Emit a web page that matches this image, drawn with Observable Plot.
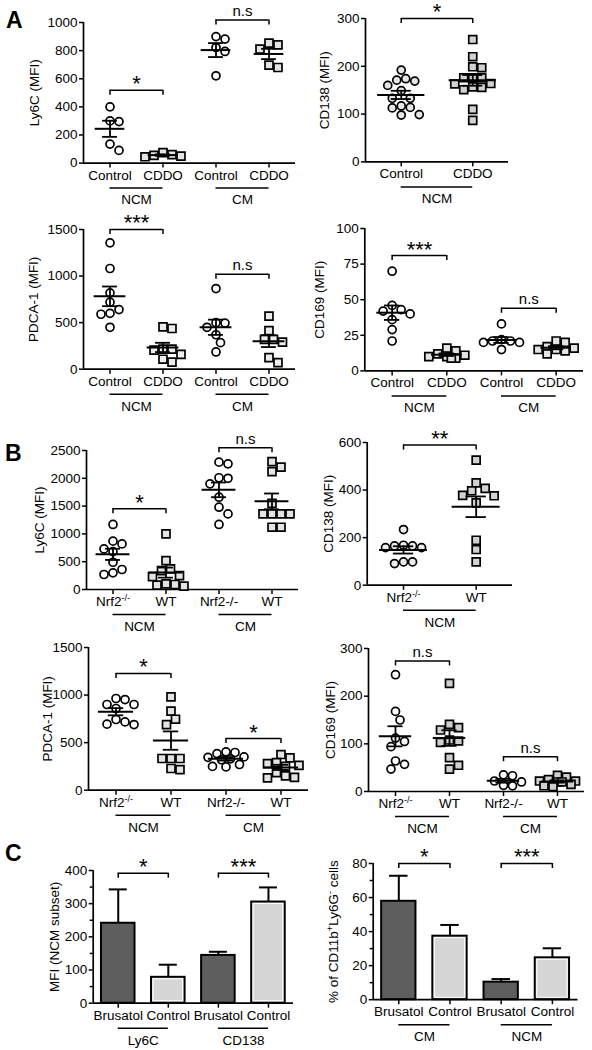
<!DOCTYPE html>
<html><head><meta charset="utf-8">
<script src="https://cdn.jsdelivr.net/npm/d3@7"></script>
<script src="https://cdn.jsdelivr.net/npm/@observablehq/plot@0.6"></script>
<style>
body{margin:0;background:#fff;}
#fig{position:relative;width:592px;height:1050px;overflow:hidden;font-family:Arial,"Liberation Sans",Helvetica,sans-serif;background:#fff;}
.panel{position:absolute;}
.letter{position:absolute;font-weight:bold;font-size:23px;line-height:1;font-family:Arial,"Liberation Sans",sans-serif;}
</style></head><body><div id="fig"></div>
<script>
// ================= DATA =================
// Panel A1 – Ly6C (MFI), CDDO
const a1Labels = ["Control", "CDDO", "Control", "CDDO"];
const a1Groups = ["NCM", "CM"];
const a1NcmControl = [400, 300, 295, 135, 90];
const a1NcmCddo = [75, 55, 45, 50, 60];
const a1CmControl = [900, 882, 822, 794, 621];
const a1CmCddo = [853, 841, 810, 697, 680];
const a1Sig = [{from: 0, to: 1, y: 519, label: "*"}, {from: 2, to: 3, y: 1017, label: "n.s"}];
const a1Ticks = [0, 200, 400, 600, 800, 1000];

// Panel A2 – CD138 (MFI), CDDO
const a2Labels = ["Control", "CDDO"];
const a2Groups = ["NCM"];
const a2Control = [192, 171, 174, 169, 160, 149, 133, 133, 117, 113, 114, 98, 99];
const a2Cddo = [256, 220, 197, 199, 176, 176, 176, 164, 157, 151, 156, 163, 110, 87];
const a2Sig = [{from: 0, to: 1, y: 300, label: "*"}];
const a2Ticks = [0, 100, 200, 300];

// Panel A3 – PDCA-1 (MFI), CDDO
const a3Labels = ["Control", "CDDO", "Control", "CDDO"];
const a3Groups = ["NCM", "CM"];
const a3NcmControl = [1357, 1081, 820, 720, 640, 600, 590, 450];
const a3NcmCddo = [455, 437, 215, 215, 205, 160, 107, 75];
const a3CmControl = [866, 500, 495, 450, 370, 285, 185];
const a3CmCddo = [569, 415, 320, 320, 290, 125, 70];
const a3Sig = [{from: 0, to: 1, y: 1500, label: "***"}, {from: 2, to: 3, y: 1020, label: "n.s"}];
const a3Ticks = [0, 500, 1000, 1500];

// Panel A4 – CD169 (MFI), CDDO
const a4Labels = ["Control", "CDDO", "Control", "CDDO"];
const a4Groups = ["NCM", "CM"];
const a4NcmControl = [70, 46, 43, 42, 40, 36, 29, 21];
const a4NcmCddo = [16, 14, 12, 11, 10, 10, 9, 9];
const a4CmControl = [33, 22, 21, 21, 20, 20, 15];
const a4CmCddo = [21, 20, 17, 16, 15, 15, 14, 12];
const a4Sig = [{from: 0, to: 1, y: 81, label: "***"}, {from: 2, to: 3, y: 44, label: "n.s"}];
const a4Ticks = [0, 25, 50, 75, 100];

// Panel B1 – Ly6C (MFI), Nrf2
const b1Labels = ["Nrf2^{-/-}", "WT", "Nrf2-/-", "WT"];
const b1Groups = ["NCM", "CM"];
const b1NcmNrf2 = [1170, 870, 820, 730, 680, 490, 360, 300, 270];
const b1NcmWt = [1000, 520, 370, 340, 250, 230, 100, 80, 60, 90];
const b1CmNrf2 = [2290, 2260, 2010, 2000, 1900, 1660, 1480, 1360, 1170];
const b1CmWt = [2300, 2200, 2120, 1550, 1360, 1360, 1360, 1360, 1120, 1120];
const b1Sig = [{from: 0, to: 1, y: 1451, label: "*"}, {from: 2, to: 3, y: 2548, label: "n.s"}];
const b1Ticks = [0, 500, 1000, 1500, 2000, 2500];

// Panel B2 – CD138 (MFI), Nrf2
const b2Labels = ["Nrf2^{-/-}", "WT"];
const b2Groups = ["NCM"];
const b2Nrf2 = [234, 165, 158, 158, 165, 168, 98, 91, 98];
const b2Wt = [526, 430, 407, 397, 376, 378, 346, 189, 150, 98];
const b2Sig = [{from: 0, to: 1, y: 589, label: "**"}];
const b2Ticks = [0, 200, 400, 600];

// Panel B3 – PDCA-1 (MFI), Nrf2
const b3Labels = ["Nrf2^{-/-}", "WT", "Nrf2-/-", "WT"];
const b3Groups = ["NCM", "CM"];
const b3NcmNrf2 = [964, 953, 901, 901, 859, 743, 718, 694, 690];
const b3NcmWt = [981, 831, 746, 690, 333, 333, 333, 228, 217];
const b3CmNrf2 = [403, 396, 385, 350, 345, 330, 320, 270, 250, 245];
const b3CmWt = [375, 340, 290, 280, 260, 250, 185, 150, 135, 130];
const b3Sig = [{from: 0, to: 1, y: 1227, label: "*"}, {from: 2, to: 3, y: 543, label: "*"}];
const b3Ticks = [0, 500, 1000, 1500];

// Panel B4 – CD169 (MFI), Nrf2
const b4Labels = ["Nrf2^{-/-}", "WT", "Nrf2-/-", "WT"];
const b4Groups = ["NCM", "CM"];
const b4NcmNrf2 = [245, 168, 150, 112, 105, 94, 64, 57, 47];
const b4NcmWt = [227, 141, 134, 129, 108, 106, 103, 71, 55, 47];
const b4CmNrf2 = [35, 33, 22, 20, 13, 12];
const b4CmWt = [34, 30, 25, 22, 22, 20, 20, 15, 12, 10];
const b4Sig = [{from: 0, to: 1, y: 274, label: "n.s"}, {from: 2, to: 3, y: 73, label: "n.s"}];
const b4Ticks = [0, 100, 200, 300];

// Panel C1 – MFI (NCM subset), Brusatol
const c1Labels = ["Brusatol", "Control", "Brusatol", "Control"];
const c1Groups = ["Ly6C", "CD138"];
const c1Means = [241, 78, 144, 305];
const c1Errors = [102, 38, 11, 44];
const c1Sig = [{from: 0, to: 1, y: 392, label: "*"}, {from: 2, to: 3, y: 392, label: "***"}];
const c1Ticks = [0, 100, 200, 300, 400];
const c1Minor = [50, 150, 250, 350];

// Panel C2 – % of CD11b+Ly6G- cells, Brusatol
const c2Labels = ["Brusatol", "Control", "Brusatol", "Control"];
const c2Groups = ["CM", "NCM"];
const c2Means = [57.8, 37.3, 10.3, 24.6];
const c2Errors = [15, 6.6, 1.8, 5.6];
const c2Sig = [{from: 0, to: 1, y: 80, label: "*"}, {from: 2, to: 3, y: 80, label: "***"}];
const c2Ticks = [0, 20, 40, 60, 80];
const c2Minor = [10, 30, 50, 70];

// ================= LAYOUT (pixels) =================
const BOX = {
  A1: {left: 0, right: 312, x0: 83, x1: 295, yTop: 21.7, yBot: 162.3, lab: 49},
  A2: {left: 296, right: 592, x0: 365, x1: 508, yTop: 18.3, yBot: 161.7, lab: 41},
  A3: {left: 0, right: 312, x0: 83, x1: 295, yTop: 229.3, yBot: 369, lab: 50},
  A4: {left: 296, right: 592, x0: 364.3, x1: 583, yTop: 228.3, yBot: 370.7, lab: 45},
  B1: {left: 0, right: 312, x0: 86, x1: 298, yTop: 450, yBot: 589, lab: 47},
  B2: {left: 296, right: 592, x0: 366.7, x1: 512, yTop: 442.3, yBot: 585, lab: 39},
  B3: {left: 0, right: 312, x0: 88, x1: 308, yTop: 647.3, yBot: 790, lab: 41},
  B4: {left: 296, right: 592, x0: 368, x1: 584, yTop: 647.7, yBot: 790.7, lab: 38},
  C1: {left: 0, right: 312, x0: 92.7, x1: 293, yTop: 870, yBot: 1002.7, lab: 39},
  C2: {left: 296, right: 592, x0: 372.7, x1: 577.5, yTop: 863.3, yBot: 999.5, lab: 40}
};
const FONT = 'Arial, "Liberation Sans", Helvetica, sans-serif';
const MT = 40, MB = 52;

const fig = document.getElementById("fig");

// deterministic beeswarm offsets (px), limited to +-maxHalf
function swarm(vals, pxPerUnit, diam, maxHalf) {
  const order = d3.range(vals.length).sort((a, b) => d3.descending(vals[a], vals[b]));
  const placed = [], offs = new Array(vals.length);
  const cands = [0];
  for (let j = 1; j * diam * 0.5 <= maxHalf; ++j) cands.push(j * diam * 0.5, -j * diam * 0.5);
  for (const k of order) {
    const y = vals[k] * pxPerUnit;
    let best = 0, bestD = -1;
    for (const c of cands) {
      const dmin = placed.length ? d3.min(placed, p => Math.hypot(p.x - c, p.y - y)) : Infinity;
      if (dmin >= diam) { best = c; bestD = Infinity; break; }
      if (dmin > bestD + 0.5) { bestD = dmin; best = c; }
    }
    placed.push({x: best, y});
    offs[k] = best;
  }
  return offs;
}

function supers(svg) {
  d3.select(svg).selectAll("text").each(function () {
    const t = this.textContent;
    if (!t.includes("^{")) return;
    const parts = t.split(/(\^\{[^}]*\})/).filter(s => s);
    const sel = d3.select(this);
    sel.text(null);
    let up = false;
    for (const p of parts) {
      if (p.startsWith("^{")) {
        sel.append("tspan").attr("dy", up ? 0 : -5).attr("font-size", "0.68em").text(p.slice(2, -1));
        up = true;
      } else {
        sel.append("tspan").attr("dy", up ? 5 : 0).text(p);
        up = false;
      }
    }
  });
}

function commonMarks(cfg, b, n, pxPerUnit, yMax) {
  const groupsData = cfg.groups.map((g, k) => ({g, a: 2 * k, b: 2 * k + 1}));
  const sig = cfg.sig;
  const depth = 5 / pxPerUnit;
  const ends = sig.flatMap(s => [{x: s.from, y: s.y}, {x: s.to, y: s.y}]);
  return [
    Plot.ruleY([0], {strokeWidth: 1.7}),
    Plot.ruleX([-0.5], {strokeWidth: 1.7}),
    Plot.axisY({ticks: cfg.ticks, tickFormat: d => String(d), tickSize: 4, tickPadding: 2, label: null, strokeWidth: 1.5, fontSize: 13.5}),
    Plot.axisX({ticks: d3.range(n), tickFormat: i => cfg.labels[i], tickSize: 5, tickPadding: 2, label: null, strokeWidth: 1.5, fontSize: 13.5}),
    Plot.ruleY(groupsData, {y: () => 0, x1: "a", x2: "b", dy: 25, strokeWidth: 1.5}),
    Plot.text(groupsData, {x: d => (d.a + d.b) / 2, y: () => 0, text: "g", dy: 37, fontSize: 13.5}),
    Plot.text([cfg.yLabel], {x: () => -0.5, y: () => yMax / 2, textAnchor: "middle", lineAnchor: "middle", rotate: -90, dx: -b.lab, text: d => d, fontSize: 13.5}),
    Plot.ruleY(sig, {y: "y", x1: "from", x2: "to", strokeWidth: 1.5}),
    Plot.ruleX(ends, {x: "x", y1: "y", y2: d => d.y - depth, strokeWidth: 1.5}),
    Plot.text(sig.filter(s => s.label.includes("*")), {x: d => (d.from + d.to) / 2, y: "y", text: "label", lineAnchor: "bottom", dy: 1, fontSize: 22}),
    Plot.text(sig.filter(s => !s.label.includes("*")), {x: d => (d.from + d.to) / 2, y: "y", text: "label", lineAnchor: "bottom", dy: -4, fontSize: 15})
  ];
}

function place(svg, b) {
  const wrap = document.createElement("div");
  wrap.className = "panel";
  wrap.style.left = b.left + "px";
  wrap.style.top = (b.yTop - MT) + "px";
  wrap.appendChild(svg);
  fig.appendChild(wrap);
  supers(svg);
}

function plotFrame(b, n, yMax, marks) {
  return Plot.plot({
    width: b.right - b.left,
    height: (b.yBot - b.yTop) + MT + MB,
    marginLeft: b.x0 - b.left,
    marginRight: b.right - b.x1,
    marginTop: MT,
    marginBottom: MB,
    x: {domain: [-0.5, n - 0.5]},
    y: {domain: [0, yMax]},
    style: {fontFamily: FONT, fontSize: "13.5px", background: "transparent", overflow: "visible", color: "black"},
    marks
  });
}

function dotPanel(cfg) {
  const b = BOX[cfg.id];
  const n = cfg.labels.length;
  const yMax = d3.max(cfg.ticks);
  const pxPerUnit = (b.yBot - b.yTop) / yMax;
  const step = (b.x1 - b.x0) / n;
  const pts = [];
  cfg.values.forEach((vals, i) => {
    const offs = swarm(vals, pxPerUnit, 9, step * 0.36);
    vals.forEach((v, k) => pts.push({i, v, x: i + offs[k] / step}));
  });
  const stats = cfg.values.map((vals, i) => {
    const m = d3.mean(vals), s = d3.deviation(vals) / Math.sqrt(vals.length);
    return {i, m, lo: m - s, hi: m + s};
  });
  const hw = cfg.meanHalf;
  const marks = [
    ...commonMarks(cfg, b, n, pxPerUnit, yMax),
    Plot.dot(pts.filter(p => p.i % 2 === 0), {x: "x", y: "v", r: 4, symbol: "circle", stroke: "black", strokeWidth: 1.7, fill: cfg.circleFill}),
    Plot.dot(pts.filter(p => p.i % 2 === 1), {x: "x", y: "v", r: 4.5, symbol: "square", stroke: "black", strokeWidth: 1.7, fill: cfg.squareFill}),
    Plot.ruleY(stats, {y: "m", x1: d => d.i - hw, x2: d => d.i + hw, strokeWidth: 2}),
    Plot.ruleX(stats, {x: "i", y1: "lo", y2: "hi", strokeWidth: 1.8}),
    Plot.ruleY(stats, {y: "lo", x1: d => d.i - 0.14, x2: d => d.i + 0.14, strokeWidth: 1.8}),
    Plot.ruleY(stats, {y: "hi", x1: d => d.i - 0.14, x2: d => d.i + 0.14, strokeWidth: 1.8})
  ];
  place(plotFrame(b, n, yMax, marks), b);
}

function barPanel(cfg) {
  const b = BOX[cfg.id];
  const n = cfg.labels.length;
  const yMax = d3.max(cfg.ticks);
  const pxPerUnit = (b.yBot - b.yTop) / yMax;
  const bars = cfg.means.map((v, i) => ({i, v, e: cfg.errors[i]}));
  const dark = bars.filter(d => d.i % 2 === 0), light = bars.filter(d => d.i % 2 === 1);
  const hw = 0.335;
  const marks = [
    Plot.axisY({ticks: cfg.minor, tickSize: 3, tickFormat: () => "", label: null, strokeWidth: 1.5}),
    Plot.ruleX(bars, {x: "i", y1: "v", y2: d => d.v + d.e, strokeWidth: 2}),
    Plot.ruleY(bars, {y: d => d.v + d.e, x1: d => d.i - 0.18, x2: d => d.i + 0.18, strokeWidth: 2}),
    Plot.rect(dark, {x1: d => d.i - hw, x2: d => d.i + hw, y1: () => 0, y2: "v", fill: "#5e5e5e", stroke: "black", strokeWidth: 2}),
    Plot.rect(light, {x1: d => d.i - hw, x2: d => d.i + hw, y1: () => 0, y2: "v", fill: "#d6d6d6", stroke: "black", strokeWidth: 2}),
    Plot.rect(light, {x1: d => d.i - hw, x2: d => d.i + hw, y1: () => 0, y2: "v", fill: "none", stroke: "white", strokeWidth: 1, inset: 2}),
    ...commonMarks(cfg, b, n, pxPerUnit, yMax)
  ];
  place(plotFrame(b, n, yMax, marks), b);
}

dotPanel({id: "A1", labels: a1Labels, groups: a1Groups, values: [a1NcmControl, a1NcmCddo, a1CmControl, a1CmCddo], sig: a1Sig, ticks: a1Ticks, yLabel: "Ly6C (MFI)", meanHalf: 0.28, circleFill: "white", squareFill: "#e4e4e4"});
dotPanel({id: "A2", labels: a2Labels, groups: a2Groups, values: [a2Control, a2Cddo], sig: a2Sig, ticks: a2Ticks, yLabel: "CD138 (MFI)", meanHalf: 0.33, circleFill: "#e6e6e6", squareFill: "#d2d2d2"});
dotPanel({id: "A3", labels: a3Labels, groups: a3Groups, values: [a3NcmControl, a3NcmCddo, a3CmControl, a3CmCddo], sig: a3Sig, ticks: a3Ticks, yLabel: "PDCA-1 (MFI)", meanHalf: 0.3, circleFill: "white", squareFill: "#ececec"});
dotPanel({id: "A4", labels: a4Labels, groups: a4Groups, values: [a4NcmControl, a4NcmCddo, a4CmControl, a4CmCddo], sig: a4Sig, ticks: a4Ticks, yLabel: "CD169 (MFI)", meanHalf: 0.28, circleFill: "white", squareFill: "#e4e4e4"});
dotPanel({id: "B1", labels: b1Labels, groups: b1Groups, values: [b1NcmNrf2, b1NcmWt, b1CmNrf2, b1CmWt], sig: b1Sig, ticks: b1Ticks, yLabel: "Ly6C (MFI)", meanHalf: 0.32, circleFill: "white", squareFill: "#e4e4e4"});
dotPanel({id: "B2", labels: b2Labels, groups: b2Groups, values: [b2Nrf2, b2Wt], sig: b2Sig, ticks: b2Ticks, yLabel: "CD138 (MFI)", meanHalf: 0.33, circleFill: "#ececec", squareFill: "#d2d2d2"});
dotPanel({id: "B3", labels: b3Labels, groups: b3Groups, values: [b3NcmNrf2, b3NcmWt, b3CmNrf2, b3CmWt], sig: b3Sig, ticks: b3Ticks, yLabel: "PDCA-1 (MFI)", meanHalf: 0.32, circleFill: "white", squareFill: "#e4e4e4"});
dotPanel({id: "B4", labels: b4Labels, groups: b4Groups, values: [b4NcmNrf2, b4NcmWt, b4CmNrf2, b4CmWt], sig: b4Sig, ticks: b4Ticks, yLabel: "CD169 (MFI)", meanHalf: 0.3, circleFill: "white", squareFill: "#cfcfcf"});
barPanel({id: "C1", labels: c1Labels, groups: c1Groups, means: c1Means, errors: c1Errors, sig: c1Sig, ticks: c1Ticks, minor: c1Minor, yLabel: "MFI (NCM subset)"});
barPanel({id: "C2", labels: c2Labels, groups: c2Groups, means: c2Means, errors: c2Errors, sig: c2Sig, ticks: c2Ticks, minor: c2Minor, yLabel: "% of CD11b^{+}Ly6G^{-} cells"});

for (const [t, x, y] of [["A", 6, 9], ["B", 5, 442], ["C", 5, 842]]) {
  const d = document.createElement("div");
  d.className = "letter";
  d.style.left = x + "px";
  d.style.top = y + "px";
  d.textContent = t;
  fig.appendChild(d);
}
</script></body></html>
